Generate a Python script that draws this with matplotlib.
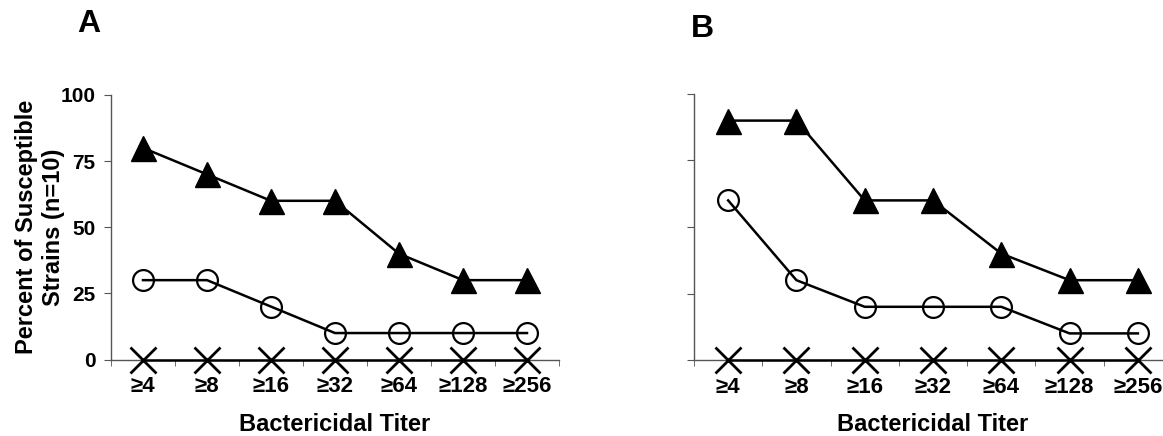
import matplotlib
matplotlib.use("Agg")
import matplotlib.pyplot as plt
import numpy as np

plt.rcParams['font.family'] = ['Liberation Sans', 'DejaVu Sans']
plt.rcParams['font.weight'] = 'bold'

titers = ['≥4', '≥8', '≥16', '≥32', '≥64', '≥128', '≥256']
yticks = [0, 25, 50, 75, 100]

# panel A
a_triangle = [80, 70, 60, 60, 40, 30, 30]
a_circle = [30, 30, 20, 10, 10, 10, 10]
a_cross = [0, 0, 0, 0, 0, 0, 0]

# panel B
b_triangle = [90, 90, 60, 60, 40, 30, 30]
b_circle = [60, 30, 20, 20, 20, 10, 10]
b_cross = [0, 0, 0, 0, 0, 0, 0]

W, H = 1163, 436
fig = plt.figure(figsize=(W / 100, H / 100), dpi=100)


def px(x0, y0, w, h):
    # pixel box (left, top of data area, width, height) -> figure fraction
    return [x0 / W, (H - y0 - h) / H, w / W, h / H]


def draw_panel(ax, tri, circ, cross, show_ylabels):
    x = np.arange(len(titers))
    ax.plot(x, cross, color='black', lw=1.8, marker='x', ms=19, mew=2.0,
            clip_on=False, zorder=3)
    ax.plot(x, circ, color='black', lw=1.8, marker='o', ms=15, mfc='none',
            mec='black', mew=1.6, clip_on=False, zorder=4)
    ax.plot(x, tri, color='black', lw=1.8, marker='^', ms=18, mfc='black',
            mec='black', clip_on=False, zorder=5)

    ax.set_xlim(-0.5, len(titers) - 0.5)
    ax.set_ylim(0, 100)
    for s in ['top', 'right']:
        ax.spines[s].set_visible(False)
    for s in ['left', 'bottom']:
        ax.spines[s].set_color('#555555')
        ax.spines[s].set_linewidth(1.0)

    ax.set_xticks(x)
    ax.set_xticklabels(titers, fontsize=16, fontweight='bold')
    ax.set_xticks(np.arange(-0.5, len(titers)), minor=True)
    ax.tick_params(axis='x', which='major', length=0, pad=12)
    ax.tick_params(axis='x', which='minor', length=4, color='#555555',
                   direction='out')

    ax.set_yticks(yticks)
    if show_ylabels:
        ax.set_yticklabels([str(v) for v in yticks], fontsize=15,
                           fontweight='bold')
    else:
        ax.set_yticklabels([])
    ax.tick_params(axis='y', length=5, color='#555555', pad=6)


ax_a = fig.add_axes(px(111, 95, 448, 264.5))
draw_panel(ax_a, a_triangle, a_circle, a_cross, True)

ax_b = fig.add_axes(px(694, 94, 478, 266))
draw_panel(ax_b, b_triangle, b_circle, b_cross, False)

fig.text(40 / W, 1 - 227 / H, 'Percent of Susceptible\nStrains (n=10)',
         rotation=90, ha='center', va='center', multialignment='center',
         fontsize=17, fontweight='bold', linespacing=1.25)

fig.text(335 / W, 1 - 424 / H, 'Bactericidal Titer', ha='center',
         va='center', fontsize=17, fontweight='bold')
fig.text(933 / W, 1 - 424 / H, 'Bactericidal Titer', ha='center',
         va='center', fontsize=17, fontweight='bold')

fig.text(77 / W, 1 - 9 / H, 'A', ha='left', va='top', fontsize=23,
         fontweight='bold')
fig.text(691 / W, 1 - 14 / H, 'B', ha='left', va='top', fontsize=23,
         fontweight='bold')

fig.savefig('out.png', dpi=100)
